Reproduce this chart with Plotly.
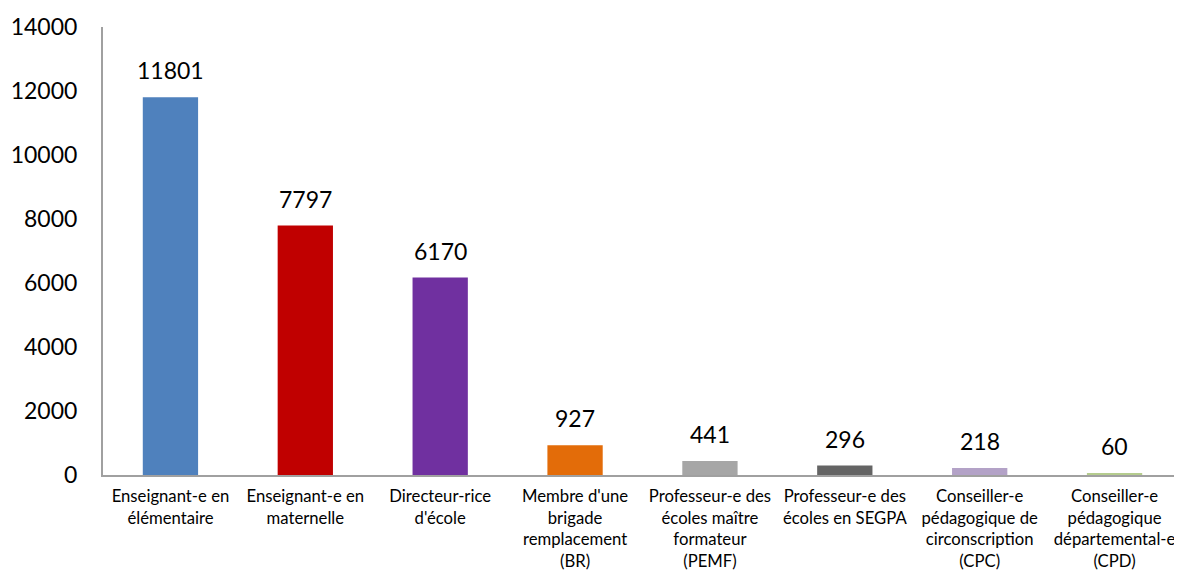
import plotly.graph_objects as go

categories = [
    "Enseignant-e en<br>élémentaire",
    "Enseignant-e en<br>maternelle",
    "Directeur-rice<br>d'école",
    "Membre d'une<br>brigade<br>remplacement<br>(BR)",
    "Professeur-e des<br>écoles maître<br>formateur<br>(PEMF)",
    "Professeur-e des<br>écoles en SEGPA",
    "Conseiller-e<br>pédagogique de<br>circonscription<br>(CPC)",
    "Conseiller-e<br>pédagogique<br>départemental-e<br>(CPD)",
]
values = [11801, 7797, 6170, 927, 441, 296, 218, 60]
colors = ["#4F81BD", "#C00000", "#7030A0", "#E36C09", "#A6A6A6", "#646464", "#B3A2C7", "#B5CC8E"]
y_ticks = [0, 2000, 4000, 6000, 8000, 10000, 12000, 14000]
y_tick_labels = [str(t) for t in y_ticks]

FONT = "Lato, Carlito, Calibri, sans-serif"

fig = go.Figure(
    go.Bar(
        x=list(range(len(categories))),
        y=values,
        marker=dict(color=colors, line=dict(width=0)),
        hoverinfo="skip",
    )
)

for i, v in enumerate(values):
    fig.add_annotation(
        x=i, y=v, text=str(v), showarrow=False,
        yanchor="bottom", yshift=11,
        font=dict(family=FONT, size=23, color="#000000"),
    )

# page body has an 8px margin, so the figure is sized/offset to compensate
fig.update_layout(
    width=1174, height=569,
    margin=dict(l=95, r=0, t=19, b=102),
    paper_bgcolor="white", plot_bgcolor="white",
    bargap=0.59,
    showlegend=False,
    font=dict(family=FONT, color="#000000"),
)
fig.update_xaxes(
    tickmode="array",
    tickvals=list(range(len(categories))),
    ticktext=categories,
    range=[-0.5, len(categories) - 0.5],
    showline=True, linecolor="#A0A0A0", linewidth=2,
    showgrid=False, zeroline=False, ticks="",
    tickfont=dict(family=FONT, size=16.7, color="#000000"),
    ticklabelstandoff=5,
    tickangle=0,
    automargin=False,
)
fig.update_yaxes(
    range=[0, 14000],
    tickmode="array",
    tickvals=y_ticks,
    ticktext=y_tick_labels,
    showline=True, linecolor="#A0A0A0", linewidth=2,
    showgrid=False, zeroline=False, ticks="",
    tickfont=dict(family=FONT, size=23, color="#000000"),
    ticklabelstandoff=19,
    automargin=False,
)

fig.write_html("out.html")
